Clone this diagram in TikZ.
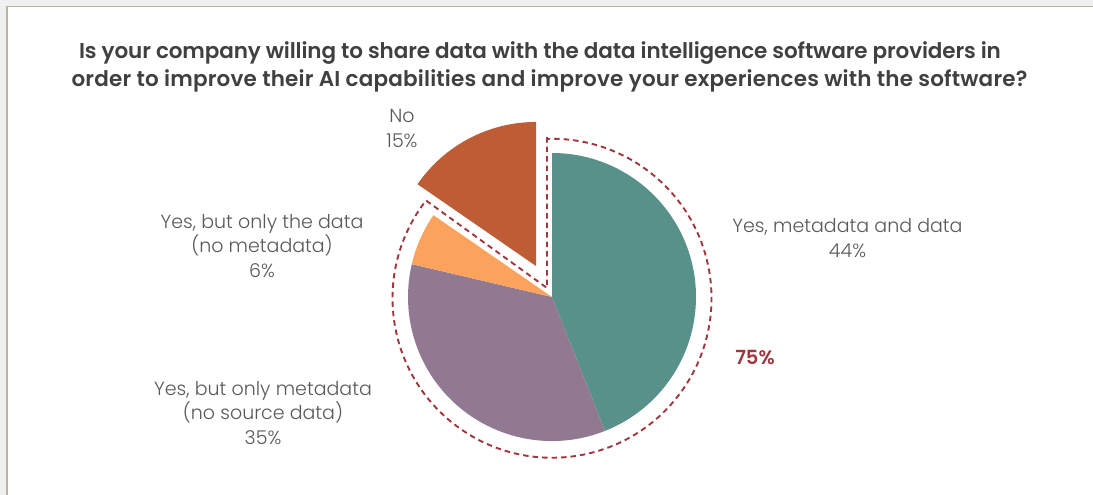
\documentclass[tikz,border=0pt]{standalone}
\usepackage{fontspec}
\setmainfont{Poppins}
\newfontfamily\lightf{Poppins Light}
\newfontfamily\boldf{Poppins SemiBold}
\newfontfamily\boldtight[LetterSpace=-0.5]{Poppins SemiBold}
\newfontfamily\boldwide[LetterSpace=0.9]{Poppins SemiBold}
\definecolor{tealc}{HTML}{58918A}
\definecolor{purp}{HTML}{917991}
\definecolor{oran}{HTML}{FBA35C}
\definecolor{rust}{HTML}{BE5C36}
\definecolor{dashc}{HTML}{A0373F}
\definecolor{txt}{HTML}{595959}
\definecolor{ttl}{HTML}{404040}
\definecolor{edge}{HTML}{B8B5A0}
\tikzset{
  lbl/.style={text=txt,font=\lightf\fontsize{19}{24.2}\selectfont,align=center,inner sep=0pt},
  ttlone/.style={text=ttl,font=\boldtight\fontsize{21.5}{28}\selectfont,inner sep=0pt},
  ttltwo/.style={text=ttl,font=\boldwide\fontsize{21.5}{28}\selectfont,inner sep=0pt},
  pct/.style={text=dashc,font=\boldf\fontsize{19.5}{22}\selectfont,inner sep=0pt}
}
\begin{document}
\begin{tikzpicture}[x=1pt,y=-1pt]
\useasboundingbox (0,0) rectangle (1093,495);
\fill[white] (0,0) rectangle (1093,495);
\fill[black!6] (0,0) rectangle (1093,6);
\fill[black!6] (0,0) rectangle (6,495);
\draw[edge,line width=1.2pt] (7,495) -- (7,6.5) -- (1093,6.5);
\fill[tealc] (552,297) -- (552,153) arc[start angle=90,delta angle=-158.4,x radius=144,y radius=-144] -- cycle;
\fill[purp] (552,297) -- (605,430.9) arc[start angle=-68.4,delta angle=-124.8,x radius=144,y radius=-144] -- cycle;
\fill[oran] (552,297) -- (411.8,264.1) arc[start angle=-193.2,delta angle=-21.4,x radius=144,y radius=-144] -- cycle;
\fill[rust] (536,266) -- (417.5,184.2) arc[start angle=-214.6,delta angle=-55.4,x radius=144,y radius=-144] -- cycle;
\draw[dashc,line width=1.9pt,dash pattern=on 5.5pt off 4pt] (547,137.1) -- (547,288) -- (426,200.5) arc[start angle=142.2,delta angle=309.6,x radius=159.5,y radius=-159.5];
\node[ttlone] (t1) at (540,53) {Is your company willing to share data with the data intelligence software providers in};
\node[ttltwo] (t2) at (549.5,81) {order to improve their AI capabilities and improve your experiences with the software?};
\node[lbl] (no) at (402,128.5) {No\\15\%};
\node[lbl] (yd) at (262,246) {Yes, but only the data\\(no metadata)\\6\%};
\node[lbl] (ym) at (263,413) {Yes, but only metadata\\(no source data)\\35\%};
\node[lbl] (yb) at (847.5,238) {Yes, metadata and data\\44\%};
\node[pct] (p) at (755,357) {75\%};
\end{tikzpicture}
\end{document}
